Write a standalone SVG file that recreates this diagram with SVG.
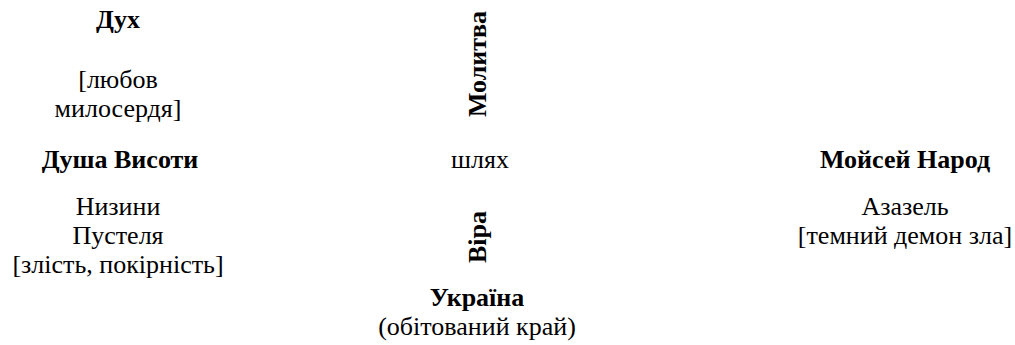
<svg xmlns="http://www.w3.org/2000/svg" width="1015" height="345" viewBox="0 0 1015 345">
<style>
text{font-size:26px;fill:#000;text-anchor:middle}
.b{font-weight:bold}
</style>
<rect width="1015" height="345" fill="#fff"/>
<g font-family="Liberation Serif, serif">
<g id="spirit"><text class="b" x="118" y="28">Дух</text></g>
<g id="love"><text x="118" y="88">[любов</text><text x="118" y="117">милосердя]</text></g>
<g id="soul"><text class="b" x="120" y="168">Душа Висоти</text></g>
<g id="lowlands"><text x="118" y="215">Низини</text><text x="118" y="244">Пустеля</text><text x="118" y="273">[злість, покірність]</text></g>
<g id="path"><text x="480" y="168">шлях</text></g>
<g id="prayer"><text class="b" transform="translate(486,64) rotate(-90)">Молитва</text></g>
<g id="faith"><text class="b" transform="translate(486,237) rotate(-90)">Віра</text></g>
<g id="ukraine"><text class="b" x="477" y="306">Україна</text><text x="477" y="335">(обітований край)</text></g>
<g id="moses"><text class="b" x="905" y="168">Мойсей Народ</text></g>
<g id="azazel"><text x="905" y="215">Азазель</text><text x="905" y="244">[темний демон зла]</text></g>
</g>
<g id="connectors"></g>
</svg>
